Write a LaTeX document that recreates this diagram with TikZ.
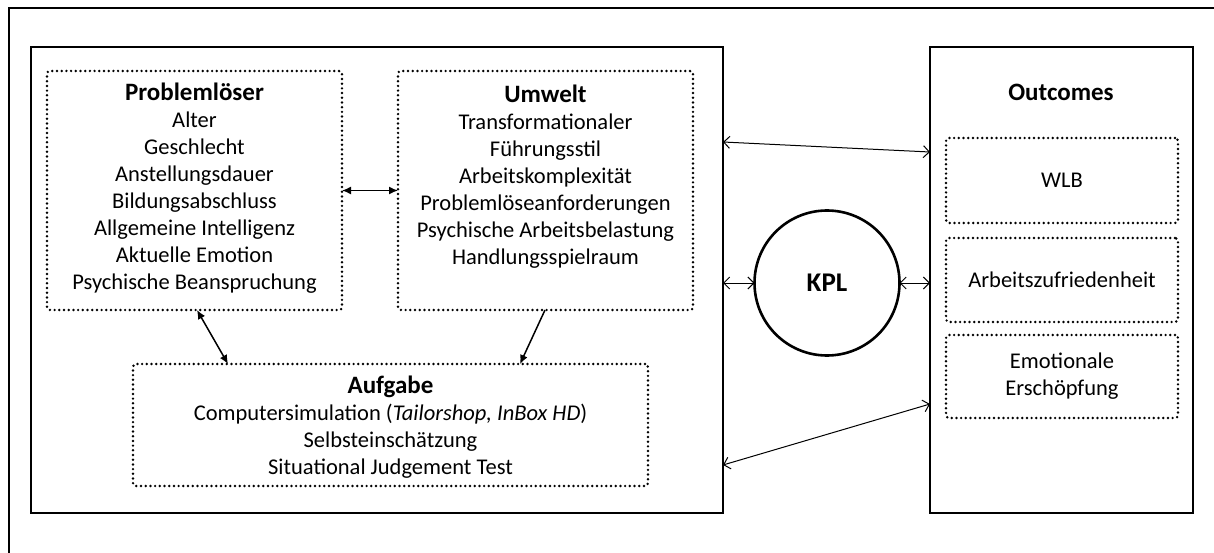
\documentclass[tikz,border=0pt]{standalone}
\usepackage{fontspec}
\setmainfont{Carlito}
\usetikzlibrary{arrows.meta}
\begin{document}
\begin{tikzpicture}[x=1pt,y=-1pt,
  frame/.style={draw, line width=2.6pt, inner sep=0pt, outer sep=0pt, anchor=north west},
  dotbox/.style={draw, line width=2.7pt, dash pattern=on 0pt off 4.7pt, line cap=round,
    rounded corners=3pt, inner sep=0pt, outer sep=0pt, anchor=north west,
    align=center, font=\fontsize{22.5}{27}\selectfont},
  txt/.style={align=center, inner sep=0pt, font=\fontsize{22.5}{27}\selectfont},
  hd/.style={font=\fontsize{25}{27}\selectfont\bfseries},
  bothsolid/.style={line width=1.5pt, {Latex[length=9pt,width=8pt]}-{Latex[length=9pt,width=8pt]}},
  onesolid/.style={line width=1.5pt, -{Latex[length=9pt,width=8pt]}},
  thinarrow/.style={line width=1pt, {Straight Barb[length=6pt,width=12pt]}-{Straight Barb[length=6pt,width=12pt]}}
]
\useasboundingbox (0,0) rectangle (1214,553);

% outer frame (top and left edges)
\draw[line width=2.4pt] (9,553) -- (9,8) -- (1214,8);

% main blocks
\node[frame, minimum width=692pt, minimum height=466pt] (main) at (31,47) {};
\node[frame, minimum width=263pt, minimum height=466pt] (oc) at (930,47) {};

% dotted groups in the left block
\node[dotbox, minimum width=295pt, minimum height=239pt] (pl) at (47,71) {};
\node[dotbox, minimum width=295pt, minimum height=239pt] (uw) at (398,71) {};
\node[dotbox, minimum width=515pt, minimum height=122pt] (auf) at (133,364) {};

\node[txt] (pltext) at (194.5,188.5) {{\fontsize{25}{27}\selectfont\bfseries Problemlöser}\\
  Alter\\ Geschlecht\\ Anstellungsdauer\\ Bildungsabschluss\\ Allgemeine Intelligenz\\
  Aktuelle Emotion\\ Psychische Beanspruchung};
\node[txt] (uwtext) at (545.5,177) {{\fontsize{25}{27}\selectfont\bfseries Umwelt}\\
  Transformationaler\\ Führungsstil\\ Arbeitskomplexität\\ Problemlöseanforderungen\\
  Psychische Arbeitsbelastung\\ Handlungsspielraum};
\node[txt] (auftext) at (390.5,427) {{\fontsize{25}{27}\selectfont\bfseries Aufgabe}\\
  Computersimulation (\textit{Tailorshop, InBox HD})\\ Selbsteinschätzung\\
  Situational Judgement Test};

% KPL
\node[draw, circle, line width=2.6pt, minimum size=145pt, inner sep=0pt, outer sep=0pt,
  font=\fontsize{27}{30}\selectfont\bfseries] (kpl) at (827,283) {KPL};

% outcomes
\node[txt, hd] (octitle) at (1061,92) {Outcomes};
\node[dotbox, minimum width=232pt, minimum height=85pt] (wlb) at (946,138) {WLB};
\node[dotbox, minimum width=232pt, minimum height=84pt] (az) at (946,238) {Arbeitszufriedenheit};
\node[dotbox, minimum width=232pt, minimum height=83pt] (ee) at (946,335) {Emotionale\\ Erschöpfung};

% connectors
\draw[bothsolid] (pl.east) -- (uw.west);
\draw[bothsolid] ([xshift=2.5pt]pl.south) -- ([xshift=-162.5pt]auf.north);
\draw[onesolid] ([xshift=-0.5pt]uw.south) -- ([xshift=129.5pt]auf.north);
\draw[thinarrow] (main.east |- kpl) -- (kpl.west);
\draw[thinarrow] (kpl.east) -- (oc.west |- kpl);
\draw[thinarrow] ([yshift=138pt]main.east) -- ([yshift=128pt]oc.west);
\draw[thinarrow] ([yshift=-185pt]main.east) -- ([yshift=-124pt]oc.west);
\end{tikzpicture}
\end{document}
